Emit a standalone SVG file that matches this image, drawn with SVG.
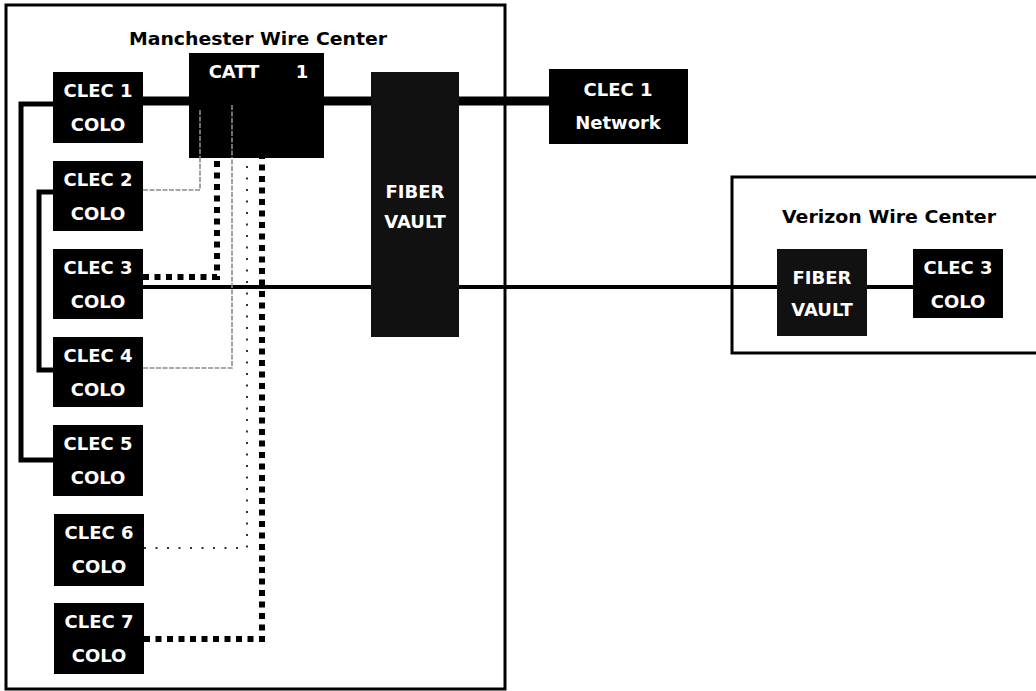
<svg xmlns="http://www.w3.org/2000/svg" width="1036" height="691" viewBox="0 0 1036 691">
<style>
.frame{fill:none;stroke:#000;stroke-width:3}
.box{fill:#000}
.vault{fill:#111}
.lbl{font-family:"DejaVu Sans","Liberation Sans",sans-serif;font-weight:bold;font-size:18px;fill:#fff;text-anchor:middle}
.title{font-family:"DejaVu Sans","Liberation Sans",sans-serif;font-weight:bold;font-size:17px;fill:#000;text-anchor:middle}
.thick{fill:none;stroke:#000;stroke-width:9}
.solid{fill:none;stroke:#000;stroke-width:4}
.brk{fill:none;stroke:#000;stroke-width:5}
.sq{fill:none;stroke:#000;stroke-width:6;stroke-dasharray:6 5.5}
.dot{fill:none;stroke:#333;stroke-width:2;stroke-dasharray:2 9.5}
.gray{fill:none;stroke:#8a8a8a;stroke-width:1.6;stroke-dasharray:5 1.5}
</style>
<rect width="1036" height="691" fill="#fff"/>
<g id="manchester">
<rect class="frame" x="6" y="5" width="499" height="684"/>
<text class="title" x="258" y="45" textLength="258" lengthAdjust="spacingAndGlyphs">Manchester Wire Center</text>
</g>
<g id="verizon">
<rect class="frame" x="732" y="177" width="310" height="176"/>
<text class="title" x="889" y="223" textLength="214" lengthAdjust="spacingAndGlyphs">Verizon Wire Center</text>
</g>
<g id="connectors">
<path class="thick" d="M143 101H189M324 101H371M459 101H549"/>
<path class="solid" d="M143 287H777M867 287H913"/>
<path class="brk" d="M53 104H21V460H53"/>
<path class="brk" d="M53 192H39V370H53"/>
<path class="sq" d="M143 277H217V158"/>
<path class="sq" d="M144 639H262V158"/>
<path class="dot" d="M144 548H247V158"/>
<path class="gray" d="M143 190H200V110"/>
<path class="gray" d="M143 368H232V105"/>
</g>
<g id="catt1">
<rect class="box" x="189" y="53" width="135" height="105"/>
<text class="lbl" x="234" y="78">CATT</text>
<text class="lbl" x="302" y="78">1</text>
<path class="gray" d="M200 110V158M232 105V158"/>
</g>
<g id="fiber-vault-m">
<rect class="vault" x="371" y="72" width="88" height="265"/>
<text class="lbl" x="415" y="198">FIBER</text>
<text class="lbl" x="415" y="228">VAULT</text>
</g>
<g id="clec1-network">
<rect class="box" x="549" y="69" width="139" height="75"/>
<text class="lbl" x="618" y="96">CLEC 1</text>
<text class="lbl" x="618" y="129">Network</text>
</g>
<g id="clec1">
<rect class="box" x="53" y="72" width="90" height="71"/>
<text class="lbl" x="98" y="97">CLEC 1</text>
<text class="lbl" x="98" y="131">COLO</text>
</g>
<g id="clec2">
<rect class="box" x="53" y="161" width="90" height="70"/>
<text class="lbl" x="98" y="186">CLEC 2</text>
<text class="lbl" x="98" y="220">COLO</text>
</g>
<g id="clec3">
<rect class="box" x="53" y="249" width="90" height="70"/>
<text class="lbl" x="98" y="274">CLEC 3</text>
<text class="lbl" x="98" y="308">COLO</text>
</g>
<g id="clec4">
<rect class="box" x="53" y="337" width="90" height="70"/>
<text class="lbl" x="98" y="362">CLEC 4</text>
<text class="lbl" x="98" y="396">COLO</text>
</g>
<g id="clec5">
<rect class="box" x="53" y="425" width="90" height="71"/>
<text class="lbl" x="98" y="450">CLEC 5</text>
<text class="lbl" x="98" y="484">COLO</text>
</g>
<g id="clec6">
<rect class="box" x="54" y="514" width="90" height="72"/>
<text class="lbl" x="99" y="539">CLEC 6</text>
<text class="lbl" x="99" y="573">COLO</text>
</g>
<g id="clec7">
<rect class="box" x="54" y="603" width="90" height="71"/>
<text class="lbl" x="99" y="628">CLEC 7</text>
<text class="lbl" x="99" y="662">COLO</text>
</g>
<g id="fiber-vault-v">
<rect class="vault" x="777" y="249" width="90" height="87"/>
<text class="lbl" x="822" y="284">FIBER</text>
<text class="lbl" x="822" y="316">VAULT</text>
</g>
<g id="clec3-v">
<rect class="box" x="913" y="249" width="90" height="69"/>
<text class="lbl" x="958" y="274">CLEC 3</text>
<text class="lbl" x="958" y="308">COLO</text>
</g>
</svg>
